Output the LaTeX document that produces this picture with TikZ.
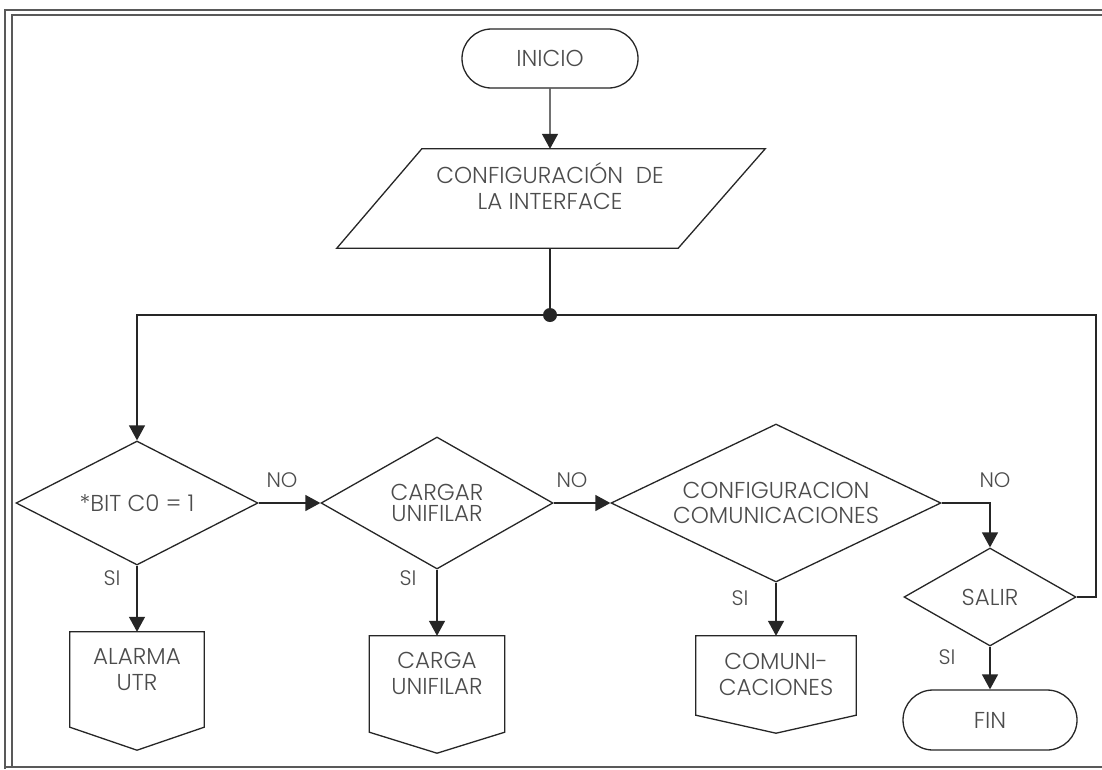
\documentclass[tikz,border=0pt]{standalone}
\usepackage{fontspec}
\setmainfont{Poppins Light}
\usetikzlibrary{arrows.meta,shapes.geometric,shapes.misc}

\tikzset{
  flowline/.style={draw=black!85, line width=1.3pt},
  arr/.style={flowline, -{Triangle[length=15pt,width=16pt]}},
  txt/.style={font=\fontsize{23}{26}\selectfont, text=black!70, align=center},
  decision/.style={diamond, flowline, txt, inner sep=0pt},
  terminal/.style={rounded rectangle, flowline, txt, inner sep=0pt},
  boxtext/.style={txt, inner sep=0pt, minimum height=76pt},
  lbl/.style={font=\fontsize{21}{24}\selectfont, text=black!70, inner sep=0pt},
  frameline/.style={draw=black!65, line width=1.5pt},
}

% off-page connector outline drawn round a text node
\newcommand\offpage[3]{%
  \draw[flowline] (#1.north west) -- (#1.north east)
    -- ([yshift=-#2]#1.south east) -- ([yshift=-#3]#1.south)
    -- ([yshift=-#2]#1.south west) -- cycle;}

\begin{document}
\begin{tikzpicture}[x=1pt,y=-1pt]
\useasboundingbox (0,0) rectangle (1102,769);
\fill[white] (0,0) rectangle (1102,769);

% page frame
\draw[frameline] (5,769) -- (5,10) -- (1102,10);
\draw[frameline] (12,767) -- (12,15) -- (1102,15);
\draw[frameline, line width=2pt] (5,767) -- (1102,767);

% start and set-up
\node[terminal, minimum width=176pt, minimum height=59pt] (ini) at (550,58.5) {INICIO};
\node[txt, inner sep=0pt, minimum width=256pt, minimum height=75pt] (cfg) at (550,186.5)
  {CONFIGURACIÓN\ \ DE\\LA INTERFACE};
\draw[flowline] (cfg.north west) -- ([xshift=87pt]cfg.north east)
  -- ([yshift=-24pt]cfg.south east) -- ([xshift=-85pt,yshift=-24pt]cfg.south west) -- cycle;
\coordinate (cfgbot) at ([yshift=-24pt]cfg.south);

\node[circle, fill=black!85, inner sep=0pt, minimum size=14pt] (j) at (550,315) {};
\coordinate (rc) at (1096,315);

% decisions
\node[decision, aspect=1.95, minimum width=242pt, minimum height=124pt] (d1) at (137,503) {*BIT C0 = 1};
\node[decision, aspect=1.76, minimum width=232pt, minimum height=132pt] (d2) at (437,503) {CARGAR\\[-5pt]UNIFILAR};
\node[decision, aspect=2.09, minimum width=330pt, minimum height=158pt] (d3) at (776,503) {CONFIGURACION\\[-1pt]COMUNICACIONES};
\node[decision, aspect=1.75, minimum width=172pt, minimum height=98pt] (salir) at (990,597) {SALIR};

% off-page connectors
\node[boxtext, minimum width=134pt] (alarma) at (137,670) {ALARMA\\UTR};
\node[boxtext, minimum width=135pt, minimum height=75pt] (carga) at (437,673.5) {CARGA\\UNIFILAR};
\node[boxtext, minimum width=160pt] (comun) at (776,674) {COMUNI-\\CACIONES};
\offpage{alarma}{19pt}{42pt}
\offpage{carga}{21pt}{42pt}
\offpage{comun}{3pt}{21pt}

\node[terminal, minimum width=174pt, minimum height=60pt] (fin) at (990,720) {FIN};

% connectors
\draw[arr] (ini) -- (cfg);
\draw[flowline] (cfgbot) -- (j);
\draw[arr] (j) -| (d1);
\draw[flowline] (j) -- (rc) |- (salir);
\draw[arr] (d1) -- (d2);
\draw[arr] (d2) -- (d3);
\draw[arr] (d3) -| (salir);
\draw[arr] (d1) -- (alarma);
\draw[arr] (d2) -- (carga);
\draw[arr] (d3) -- (comun);
\draw[arr] (salir) -- (fin);

% branch labels
\node[lbl] (no1) at (282,480) {NO};
\node[lbl] (no2) at (572,480) {NO};
\node[lbl] (no3) at (995,480) {NO};
\node[lbl] (si1) at (112,578) {SI};
\node[lbl] (si2) at (408,578) {SI};
\node[lbl] (si3) at (740,598) {SI};
\node[lbl] (si4) at (947,657) {SI};
\end{tikzpicture}
\end{document}
